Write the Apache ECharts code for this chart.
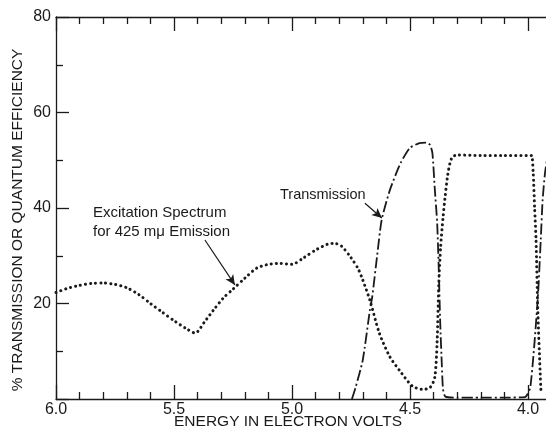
<!DOCTYPE html>
<html>
<head>
<meta charset="utf-8">
<script src="https://cdn.jsdelivr.net/npm/echarts@6/dist/echarts.min.js"></script>
<style>
  html, body { margin: 0; padding: 0; background: #fff; }
  #main { width: 546px; height: 432px; }
</style>
</head>
<body>
<div id="main"></div>
<script>
// excitation spectrum (dotted), energy in eV
const excEnergy = [6.0, 5.95, 5.9, 5.85, 5.8, 5.75, 5.7, 5.65, 5.6, 5.55, 5.5, 5.45, 5.41, 5.37, 5.33, 5.29, 5.25, 5.2, 5.15, 5.1, 5.05, 5.0, 4.95, 4.9, 4.85, 4.82, 4.79, 4.75, 4.72, 4.7, 4.67, 4.63, 4.585, 4.54, 4.49, 4.445, 4.415, 4.395, 4.385, 4.378, 4.37, 4.36, 4.352, 4.34, 4.33, 4.32, 4.3, 4.2, 4.1, 4.0, 3.985, 3.978, 3.972, 3.966, 3.959, 3.949, 3.945];
const excValue = [22.3, 23.2, 23.8, 24.2, 24.3, 24.0, 23.3, 21.9, 20.0, 18.2, 16.4, 14.8, 13.8, 16.2, 18.8, 21.2, 23.0, 25.3, 27.4, 28.2, 28.4, 28.2, 29.6, 31.2, 32.4, 32.6, 32.0, 29.6, 27.3, 24.9, 20.7, 13.8, 8.8, 5.7, 2.7, 2.0, 2.4, 4.5, 12, 24, 32, 38, 42, 47, 49.5, 50.7, 51.1, 51.0, 51.0, 51.0, 51.0, 47.3, 40, 33.3, 19.3, 6.1, 1.5];

// transmission (dash-dot)
const trEnergy = [4.746, 4.73, 4.7, 4.67, 4.66, 4.64, 4.62, 4.585, 4.54, 4.5, 4.46, 4.43, 4.415, 4.405, 4.395, 4.385, 4.378, 4.372, 4.365, 4.36, 4.35, 4.3, 4.2, 4.1, 4.013, 3.99, 3.959, 3.946, 3.938, 3.928, 3.92];
const trValue = [0, 2.5, 8.2, 18.6, 21.4, 29.7, 37.5, 43.8, 49.4, 52.6, 53.6, 53.7, 53.2, 51.5, 44, 37, 27, 16, 7, 2, 0.5, 0.3, 0.3, 0.3, 0.4, 2.5, 20.7, 33.3, 41.7, 47.3, 50];

const xLabels = [6.0, 5.5, 5.0, 4.5, 4.0];
const yLabels = [20, 40, 60, 80];

const font = 'Liberation Sans, Arial, sans-serif';
const ink = '#1a1a1a';

const excData = excEnergy.map((e, i) => [e, excValue[i]]);
const trData = trEnergy.map((e, i) => [e, trValue[i]]);

const arrow = {
  silent: true,
  symbol: ['none', 'arrow'],
  symbolSize: [7, 10],
  label: { show: false },
  lineStyle: { color: ink, type: 'solid', width: 1.2 },
  animation: false
};

function xAxisCfg(pos) {
  return {
    type: 'value',
    position: pos,
    inverse: true,
    min: 3.5,
    max: 6.0,
    interval: 0.5,
    axisLine: { show: true, lineStyle: { color: ink, width: 1.3 } },
    axisTick: { show: true, inside: true, length: 14, lineStyle: { color: ink, width: 1.3 } },
    minorTick: { show: true, splitNumber: 5, length: 7, lineStyle: { color: ink, width: 1.3 } },
    splitLine: { show: false },
    axisLabel: {
      show: pos === 'bottom',
      margin: 3,
      color: ink,
      fontFamily: font,
      fontSize: 16,
      formatter: v => (xLabels.indexOf(v) >= 0 ? v.toFixed(1) : '')
    }
  };
}

const chart = echarts.init(document.getElementById('main'));
chart.setOption({
  animation: false,
  backgroundColor: '#fff',
  grid: { left: 56, right: -100, top: 17, bottom: 33, outerBoundsMode: 'none' },
  xAxis: [xAxisCfg('bottom'), xAxisCfg('top')],
  yAxis: {
    type: 'value',
    min: 0,
    max: 80,
    interval: 20,
    axisLine: { show: true, lineStyle: { color: ink, width: 1.3 } },
    axisTick: { show: true, inside: true, length: 13, lineStyle: { color: ink, width: 1.3 } },
    minorTick: { show: true, splitNumber: 2, length: 7, lineStyle: { color: ink, width: 1.3 } },
    splitLine: { show: false },
    axisLabel: {
      margin: 5,
      color: ink,
      fontFamily: font,
      fontSize: 16,
      formatter: v => (yLabels.indexOf(v) >= 0 ? String(v) : '')
    }
  },
  series: [
    {
      name: 'Excitation Spectrum',
      type: 'line',
      data: excData,
      smooth: 0.25,
      showSymbol: false,
      lineStyle: { color: ink, width: 3, type: [0.1, 5], cap: 'round' },
      markLine: Object.assign({}, arrow, {
        data: [[{ coord: [5.369, 33.3] }, { coord: [5.242, 23.9] }]]
      })
    },
    {
      name: 'Transmission',
      type: 'line',
      data: trData,
      smooth: 0.2,
      showSymbol: false,
      lineStyle: { color: ink, width: 1.8, type: [11, 3, 2, 3] },
      markLine: Object.assign({}, arrow, {
        data: [[{ coord: [4.691, 41.0] }, { coord: [4.619, 37.9] }]]
      })
    }
  ],
  graphic: [
    { type: 'text', left: 280, top: 187, style: { text: 'Transmission', fill: ink, font: '14.5px ' + font } },
    { type: 'text', left: 93, top: 205, style: { text: 'Excitation Spectrum', fill: ink, font: '15px ' + font } },
    { type: 'text', left: 93, top: 224, style: { text: 'for 425 mμ Emission', fill: ink, font: '15px ' + font } },
    {
      type: 'text', x: 288, y: 422,
      style: { text: 'ENERGY IN ELECTRON VOLTS', fill: ink, font: '15.5px ' + font, align: 'center', verticalAlign: 'middle' }
    },
    {
      type: 'text', x: 18, y: 220, rotation: Math.PI / 2,
      style: { text: '% TRANSMISSION OR QUANTUM EFFICIENCY', fill: ink, font: '15.5px ' + font, align: 'center', verticalAlign: 'middle' }
    }
  ]
});
</script>
</body>
</html>
